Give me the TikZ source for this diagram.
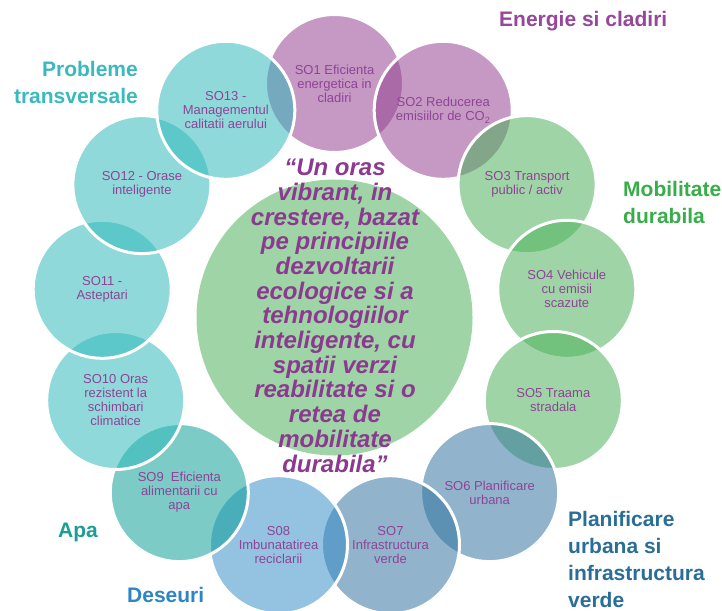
\documentclass[tikz,border=0pt]{standalone}
\usepackage{fontspec}
\setmainfont{Liberation Sans}
\definecolor{cpurp}{RGB}{146,63,143}
\definecolor{cteal}{RGB}{47,185,186}
\definecolor{cgreen}{RGB}{74,176,87}
\definecolor{cblue}{RGB}{48,114,159}
\definecolor{clblue}{RGB}{53,140,200}
\definecolor{cdteal}{RGB}{8,157,151}
\definecolor{ctext}{RGB}{142,68,150}
\definecolor{cquote}{RGB}{139,58,143}
\definecolor{lpurp}{RGB}{150,70,155}
\definecolor{lteal}{RGB}{59,186,189}
\definecolor{lgreen}{RGB}{58,173,75}
\definecolor{ldteal}{RGB}{26,158,150}
\definecolor{lblue}{RGB}{46,133,198}
\definecolor{ldblue}{RGB}{42,110,152}
\begin{document}
\begin{tikzpicture}[x=1pt,y=-1pt,
  goal/.style={circle, minimum size=138pt, inner sep=0pt, draw=white, line width=3pt,
    fill opacity=0.53, draw opacity=1, text opacity=1, text=ctext, align=center,
    font=\fontsize{13}{14}\selectfont},
  group/.style={inner sep=0pt, align=left, anchor=base west,
    font=\fontsize{21}{27}\selectfont\bfseries}]
\useasboundingbox (0,0) rectangle (722,610);
\fill[white] (0,0) rectangle (722,610);
% central vision
\node[circle, minimum size=276pt, inner sep=0pt, fill=cgreen, fill opacity=0.53] (core) at (334.5,317.5) {};
\node[inner sep=0pt, align=center, anchor=base, text=cquote,
  font=\fontsize{24}{24.7}\selectfont\bfseries\itshape] (vision) at (335,472)
  {“Un oras\\vibrant, in\\crestere, bazat\\pe principiile\\dezvoltarii\\ecologice si a\\tehnologiilor\\inteligente, cu\\spatii verzi\\reabilitate si o\\retea de\\mobilitate\\durabila”};
% ring of objectives
\node[goal, fill=cpurp] (so1) at (334.5,83.5) {SO1 Eficienta\\energetica in\\cladiri};
\node[goal, fill=cpurp] (so2) at (443.2,110.3) {SO2 Reducerea\\emisiilor de CO\textsubscript{2}};
\node[goal, fill=cgreen] (so3) at (527.1,184.6) {SO3 Transport\\public / activ};
\node[goal, fill=cgreen] (so4) at (566.8,289.3) {SO4 Vehicule\\cu emisii\\scazute};
\node[goal, fill=cgreen] (so5) at (553.3,400.5) {SO5 Traama\\stradala};
\node[goal, fill=cblue] (so6) at (489.7,492.6) {SO6 Planificare\\urbana};
\node[goal, fill=cblue] (so7) at (390.5,544.7) {SO7\\Infrastructura\\verde};
\node[goal, fill=clblue] (so8) at (278.5,544.7) {S08\\Imbunatatirea\\reciclarii};
\node[goal, fill=cdteal] (so9) at (179.3,492.6) {SO9~ Eficienta\\alimentarii cu\\apa};
\node[goal, fill=cteal] (so10) at (115.7,400.5) {SO10 Oras\\rezistent la\\schimbari\\climatice};
\node[goal, fill=cteal] (so11) at (102.2,289.3) {SO11 -\\Asteptari};
\node[goal, fill=cteal] (so12) at (141.9,184.6) {SO12 - Orase\\inteligente};
\node[goal, fill=cteal] (so13) at (225.8,110.3) {SO13 -\\Managementul\\calitatii aerului};
% group labels (base anchor = baseline of the last line)
\node[group, text=lpurp] (gEn) at (499,27) {Energie si cladiri};
\node[group, text=lteal, align=right, anchor=base east] (gPr) at (138,103) {Probleme\\transversale};
\node[group, text=lgreen] (gMo) at (623,223) {Mobilitate\\durabila};
\node[group, text=ldteal] (gAp) at (58,537) {Apa};
\node[group, text=lblue] (gDe) at (127,602) {Deseuri};
\node[group, text=ldblue] (gPl) at (568,607) {Planificare\\urbana si\\infrastructura\\verde};
\end{tikzpicture}
\end{document}
